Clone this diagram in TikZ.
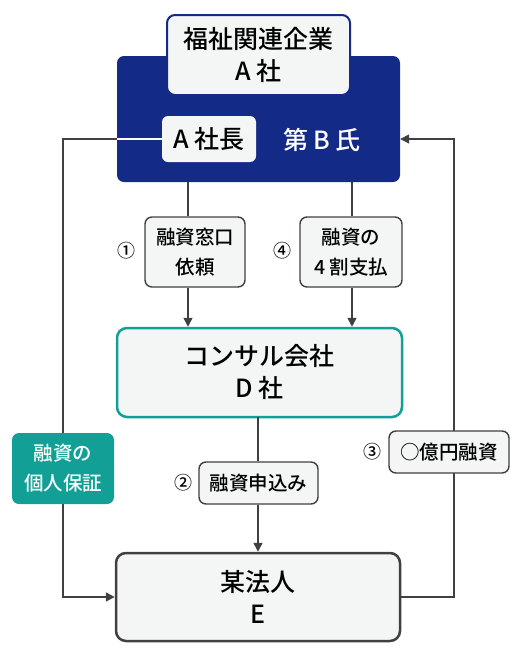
\documentclass[tikz,border=0pt]{standalone}
\usepackage{fontspec}
\setmainfont{Noto Sans CJK JP}[UprightFont=* Medium]
\usetikzlibrary{arrows.meta,calc}
\definecolor{navy}{HTML}{142A87}
\definecolor{teal2}{HTML}{12A096}
\definecolor{lgray}{HTML}{F4F6F6}
\definecolor{dgray}{HTML}{404040}
\tikzset{
  conn/.style={draw=dgray,line width=1.5pt},
  arr/.style={conn,-{Triangle[length=9pt,width=9pt]}},
  bigtext/.style={font=\fontsize{25}{32}\selectfont,align=center},
  smalltext/.style={font=\fontsize{19.5}{30}\selectfont,align=center},
  lbox/.style={smalltext,draw=dgray,line width=1.4pt,fill=lgray,rounded corners=7pt,inner sep=0pt},
  num/.style={font=\fontsize{18}{18}\selectfont,inner sep=0pt},
}
\begin{document}
\begin{tikzpicture}[x=1pt,y=-1pt]
\useasboundingbox (0,0) rectangle (513,649);
% blue group
\node[fill=navy,rounded corners=7pt,minimum width=283pt,minimum height=126pt,inner sep=0pt] (blue) at (258.5,119) {};
\node[bigtext,fill=lgray,draw=navy,line width=2pt,rounded corners=8pt,minimum width=183pt,minimum height=80pt,inner sep=0pt] (A) at (258.5,55) {福祉関連企業\\A 社};
\node[bigtext,fill=lgray,rounded corners=6pt,minimum width=94pt,minimum height=46pt,inner sep=0pt] (asc) at (209,139) {A 社長};
\node[bigtext,text=white,inner sep=0pt] (bsh) at (322,140) {第 B 氏};
% other boxes
\node[lbox,minimum width=100pt,minimum height=70pt] (b1) at (195,252) {融資窓口\\依頼};
\node[lbox,minimum width=102pt,minimum height=70pt] (b4) at (351,252) {融資の\\4 割支払};
\node[bigtext,draw=teal2,line width=2.5pt,fill=lgray,rounded corners=10pt,minimum width=285pt,minimum height=89pt,inner sep=0pt] (D) at (259.5,372.5) {コンサル会社\\D 社};
\node[lbox,minimum width=119pt,minimum height=42pt] (b2) at (258.5,483) {融資申込み};
\node[bigtext,draw=dgray,line width=2.5pt,fill=lgray,rounded corners=10pt,minimum width=284pt,minimum height=88pt,inner sep=0pt] (E) at (258,597) {某法人\\E};
\coordinate (b3) at (449,452);
% numbers
\node[num] (n1) at (126,251) {①};
\node[num] (n4) at (282,251) {④};
\node[num] (n2) at (183,483) {②};
\node[num] (n3) at (372,452) {③};
% connectors
\coordinate (t1) at (188,182);
\coordinate (t4) at (352,182);
\coordinate (t2) at (258,417);
\coordinate (L1) at (63,139);
\coordinate (R1) at (454,139);
\draw[conn] (t1) -- (t1 |- b1.north);
\draw[arr] (t1 |- b1.south) -- (t1 |- D.north);
\draw[conn] (t4) -- (t4 |- b4.north);
\draw[arr] (t4 |- b4.south) -- (t4 |- D.north);
\draw[conn] (t2) -- (t2 |- b2.north);
\draw[arr] (t2 |- b2.south) -- (t2 |- E.north);
\draw[arr] (asc.west) -- (L1) |- (E.west);
\draw[draw=white,line width=1.5pt] (asc.west) -- (blue.west |- asc.west);
\draw[arr] (E.east) -| (R1) -- (blue.east |- R1);
% boxes over lines
\node[smalltext,text=white,fill=teal2,rounded corners=7pt,minimum width=102pt,minimum height=71pt,inner sep=0pt] (G) at (63,468.5) {融資の\\個人保証};
\node[lbox,minimum width=120pt,minimum height=42pt] (B3) at (b3) {○億円融資};
\end{tikzpicture}
\end{document}
